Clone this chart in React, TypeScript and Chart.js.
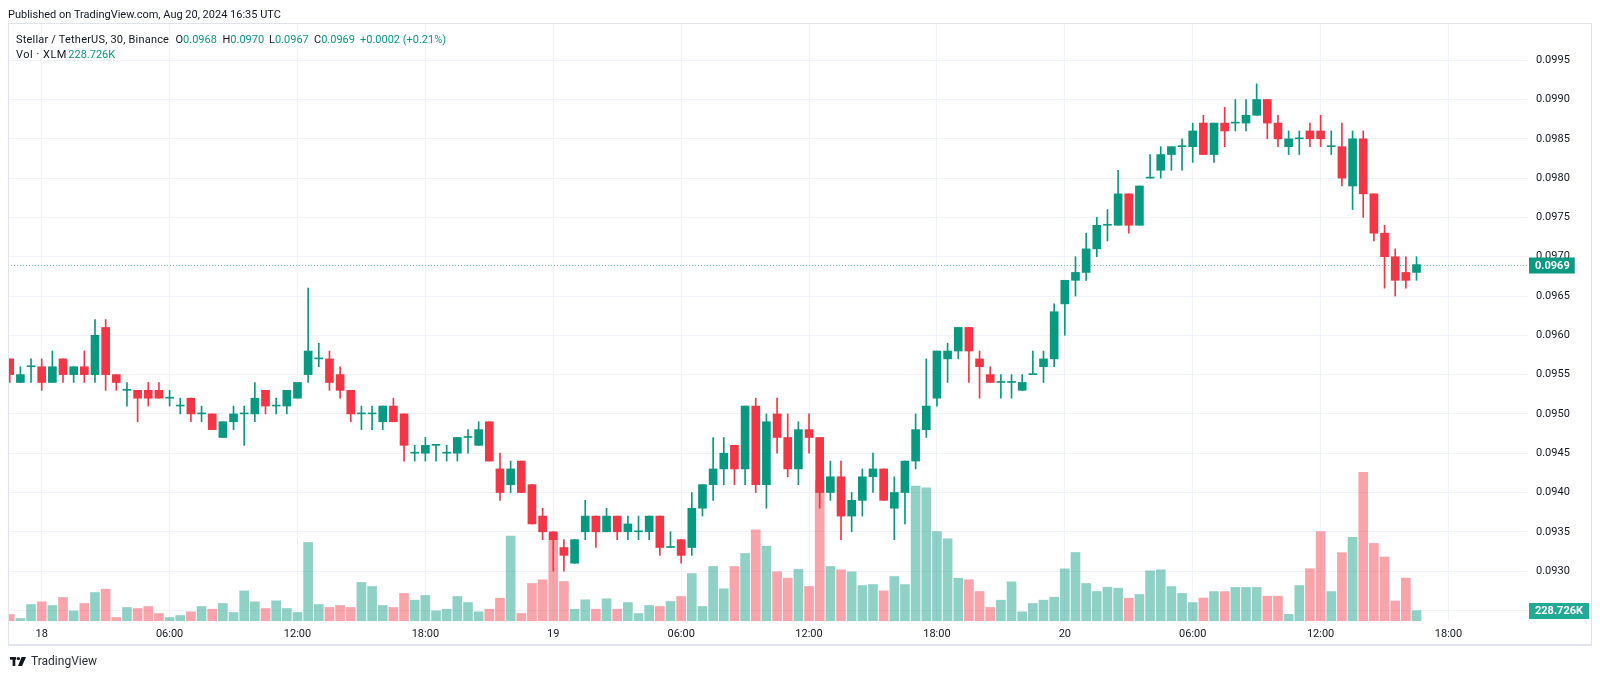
import React, { useEffect, useRef } from "react";
import { Chart, registerables } from "chart.js";

Chart.register(...registerables);

// Time: hours relative to Aug 18 00:00 UTC; first candle is Aug 17 22:30, 30-minute candles
const FIRST_CANDLE_HOURS = -1.5;
const CANDLE_HOURS = 0.5;

const OPEN = [
  0.0957, 0.0954, 0.0956, 0.0956, 0.0954, 0.0957, 0.0955, 0.0956, 0.0955, 0.0961,
  0.0955, 0.0953, 0.0953, 0.0953, 0.0953, 0.0952, 0.0951, 0.0952, 0.095, 0.095,
  0.0947, 0.0949, 0.095, 0.095, 0.0953, 0.0951, 0.0951, 0.0952, 0.0955, 0.0957,
  0.0957, 0.0955, 0.0953, 0.095, 0.095, 0.0949, 0.0951, 0.095, 0.0945, 0.0945,
  0.0946, 0.0945, 0.0945, 0.0947, 0.0946, 0.0949, 0.0943, 0.0941, 0.0944, 0.0941,
  0.0937, 0.0935, 0.0933, 0.0931, 0.0935, 0.0937, 0.0935, 0.0937, 0.0935, 0.0935,
  0.0935, 0.0937, 0.0933, 0.0934, 0.0933, 0.0938, 0.0941, 0.0943, 0.0946, 0.0943,
  0.0951, 0.0941, 0.095, 0.0947, 0.0943, 0.0948, 0.0947, 0.094, 0.0942, 0.0937,
  0.0939, 0.0942, 0.0943, 0.0938, 0.094, 0.0944, 0.0948, 0.0952, 0.0957, 0.0958,
  0.0961, 0.0957, 0.0955, 0.0954, 0.0954, 0.0953, 0.0955, 0.0956, 0.0957, 0.0964,
  0.0967, 0.0968, 0.0971, 0.0974, 0.0974, 0.0978, 0.0974, 0.098, 0.0981, 0.0983,
  0.0984, 0.0984, 0.0987, 0.0983, 0.0987, 0.0987, 0.0987, 0.0988, 0.099, 0.0987,
  0.0984, 0.0985, 0.0986, 0.0986, 0.0984, 0.0984, 0.0979, 0.0985, 0.0978, 0.0973,
  0.097, 0.0968, 0.0968,
];
const HIGH = [
  0.0957, 0.0956, 0.0957, 0.0957, 0.0958, 0.0957, 0.0956, 0.0958, 0.0962, 0.0962,
  0.0955, 0.0954, 0.0953, 0.0954, 0.0954, 0.0953, 0.0952, 0.0952, 0.0951, 0.095,
  0.0949, 0.0951, 0.0951, 0.0954, 0.0953, 0.0952, 0.0953, 0.0954, 0.0966, 0.0959,
  0.0958, 0.0956, 0.0953, 0.0951, 0.0951, 0.0951, 0.0952, 0.095, 0.0946, 0.0947,
  0.0946, 0.0946, 0.0947, 0.0948, 0.0949, 0.0949, 0.0945, 0.0944, 0.0944, 0.0941,
  0.0938, 0.0935, 0.0934, 0.0934, 0.0939, 0.0937, 0.0938, 0.0937, 0.0937, 0.0937,
  0.0937, 0.0937, 0.0935, 0.0934, 0.094, 0.0941, 0.0947, 0.0947, 0.0946, 0.0951,
  0.0952, 0.095, 0.0952, 0.095, 0.0949, 0.095, 0.0947, 0.0944, 0.0944, 0.094,
  0.0943, 0.0945, 0.0943, 0.0942, 0.0944, 0.095, 0.0957, 0.0958, 0.0959, 0.0961,
  0.0961, 0.0958, 0.0956, 0.0955, 0.0955, 0.0955, 0.0958, 0.0958, 0.0964, 0.0967,
  0.097, 0.0973, 0.0975, 0.0976, 0.0981, 0.0978, 0.0979, 0.0983, 0.0984, 0.0984,
  0.0985, 0.0987, 0.0988, 0.0987, 0.0989, 0.099, 0.099, 0.0992, 0.099, 0.0988,
  0.0986, 0.0986, 0.0987, 0.0988, 0.0986, 0.0987, 0.0986, 0.0986, 0.0978, 0.0974,
  0.0971, 0.097, 0.097,
];
const LOW = [
  0.0954, 0.0954, 0.0954, 0.0953, 0.0954, 0.0954, 0.0954, 0.0954, 0.0954, 0.0953,
  0.0953, 0.0951, 0.0949, 0.0951, 0.0952, 0.0951, 0.095, 0.0949, 0.0949, 0.0948,
  0.0947, 0.0948, 0.0946, 0.0949, 0.095, 0.095, 0.095, 0.0952, 0.0954, 0.0956,
  0.0953, 0.0952, 0.0949, 0.0948, 0.0948, 0.0948, 0.0949, 0.0944, 0.0944, 0.0944,
  0.0944, 0.0944, 0.0944, 0.0945, 0.0946, 0.0944, 0.0939, 0.094, 0.094, 0.0936,
  0.0934, 0.093, 0.093, 0.0931, 0.0934, 0.0933, 0.0935, 0.0934, 0.0934, 0.0934,
  0.0934, 0.0932, 0.0933, 0.0931, 0.0932, 0.0937, 0.0939, 0.0941, 0.0941, 0.0941,
  0.094, 0.0938, 0.0945, 0.0942, 0.0941, 0.0945, 0.0938, 0.0939, 0.0934, 0.0935,
  0.0937, 0.094, 0.0939, 0.0934, 0.0936, 0.0943, 0.0947, 0.0951, 0.0954, 0.0957,
  0.0954, 0.0952, 0.0954, 0.0952, 0.0952, 0.0953, 0.0955, 0.0954, 0.0956, 0.096,
  0.0965, 0.0967, 0.097, 0.0972, 0.0974, 0.0973, 0.0974, 0.098, 0.098, 0.0981,
  0.0981, 0.0982, 0.0983, 0.0982, 0.0984, 0.0986, 0.0986, 0.0988, 0.0985, 0.0984,
  0.0983, 0.0983, 0.0984, 0.0984, 0.0983, 0.0979, 0.0976, 0.0975, 0.0972, 0.0966,
  0.0965, 0.0966, 0.0967,
];
const CLOSE = [
  0.0955, 0.0955, 0.0956, 0.0954, 0.0956, 0.0955, 0.0956, 0.0955, 0.096, 0.0955,
  0.0954, 0.0953, 0.0952, 0.0952, 0.0952, 0.0952, 0.0951, 0.095, 0.095, 0.0948,
  0.0949, 0.095, 0.095, 0.0952, 0.0951, 0.0951, 0.0953, 0.0954, 0.0958, 0.0957,
  0.0954, 0.0953, 0.095, 0.095, 0.095, 0.0951, 0.0949, 0.0946, 0.0945, 0.0946,
  0.0946, 0.0945, 0.0947, 0.0947, 0.0948, 0.0944, 0.094, 0.0943, 0.094, 0.0936,
  0.0935, 0.0934, 0.0932, 0.0934, 0.0937, 0.0935, 0.0937, 0.0935, 0.0936, 0.0935,
  0.0937, 0.0933, 0.0933, 0.0932, 0.0938, 0.0941, 0.0943, 0.0945, 0.0943, 0.0951,
  0.0941, 0.0949, 0.0947, 0.0943, 0.0948, 0.0947, 0.094, 0.0942, 0.0937, 0.0939,
  0.0942, 0.0943, 0.0939, 0.094, 0.0944, 0.0948, 0.0951, 0.0958, 0.0958, 0.0961,
  0.0958, 0.0956, 0.0954, 0.0954, 0.0954, 0.0954, 0.0955, 0.0957, 0.0963, 0.0967,
  0.0968, 0.0971, 0.0974, 0.0974, 0.0978, 0.0974, 0.0979, 0.098, 0.0983, 0.0984,
  0.0984, 0.0986, 0.0983, 0.0987, 0.0986, 0.0987, 0.0988, 0.099, 0.0987, 0.0985,
  0.0985, 0.0985, 0.0985, 0.0985, 0.0984, 0.098, 0.0985, 0.0978, 0.0973, 0.097,
  0.0967, 0.0967, 0.0969,
];
// Volume in thousands of XLM
const VOLUME_K = [
  144, 56, 366, 426, 344, 522, 222, 389, 633, 706,
  78, 300, 278, 322, 167, 78, 122, 204, 322, 262,
  389, 189, 670, 426, 278, 448, 278, 189, 1743, 366,
  300, 344, 300, 855, 766, 344, 300, 611, 462, 566,
  226, 262, 544, 411, 204, 262, 506, 1883, 167, 833,
  915, 1943, 877, 262, 471, 262, 493, 262, 411, 167,
  344, 322, 433, 544, 1055, 322, 1210, 715, 1210, 1499,
  2025, 1661, 1092, 950, 1150, 766, 3119, 1210, 1137, 1092,
  788, 810, 670, 988, 810, 2993, 2957, 1987, 1825, 950,
  915, 655, 300, 462, 870, 204, 389, 462, 528, 1159,
  1521, 833, 655, 750, 728, 506, 588, 1114, 1137, 764,
  613, 408, 511, 653, 653, 746, 746, 746, 551, 551,
  147, 788, 1161, 1985, 653, 1518, 1858, 3301, 1723, 1421,
  444, 952, 228.726,
];

const TIME_TICK_HOURS = [0, 6, 12, 18, 24, 30, 36, 42, 48, 54, 60, 66];
const TIME_TICK_LABELS = ["18", "06:00", "12:00", "18:00", "19", "06:00", "12:00", "18:00", "20", "06:00", "12:00", "18:00"];
const PRICE_TICKS = [0.0925, 0.093, 0.0935, 0.094, 0.0945, 0.095, 0.0955, 0.096, 0.0965, 0.097, 0.0975, 0.098, 0.0985, 0.099, 0.0995];
const LAST_PRICE = 0.0969;
const LAST_VOLUME_LABEL = "228.726K";

const UP = "#089981";
const DOWN = "#F23645";
const UP_VOL = "rgba(8,153,129,0.45)";
const DOWN_VOL = "rgba(242,54,69,0.45)";
const TEXT = "#131722";
const GRID = "#f0f3fa";
const FONT = "Roboto, 'Liberation Sans', sans-serif";

const overlayPlugin = {
  id: "tvOverlay",
  beforeDraw(chart: any) {
    const { ctx, width, height } = chart;
    ctx.save();
    ctx.fillStyle = "#ffffff";
    ctx.fillRect(0, 0, width, height);
    ctx.restore();
  },
  afterDraw(chart: any) {
    const { ctx, chartArea } = chart;
    const y = chart.scales.y;
    const vol = chart.scales.vol;
    ctx.save();
    // dotted last price line
    const py = Math.round(y.getPixelForValue(LAST_PRICE)) + 0.5;
    ctx.strokeStyle = "rgba(8,153,129,0.6)";
    ctx.lineWidth = 1;
    ctx.setLineDash([1, 2]);
    ctx.beginPath();
    ctx.moveTo(chartArea.left, py);
    ctx.lineTo(chartArea.right, py);
    ctx.stroke();
    ctx.setLineDash([]);

    ctx.font = `bold 11px ${FONT}`;
    ctx.textBaseline = "middle";
    ctx.textAlign = "left";
    // price badge
    const pLabel = LAST_PRICE.toFixed(4);
    const pw = ctx.measureText(pLabel).width;
    ctx.fillStyle = UP;
    ctx.fillRect(chartArea.right + 1, py - 8, pw + 11, 16);
    ctx.fillStyle = "#ffffff";
    ctx.fillText(pLabel, chartArea.right + 7, py + 0.5);
    // volume badge
    const lastVol = VOLUME_K[VOLUME_K.length - 1];
    const vy = Math.round(vol.getPixelForValue(lastVol));
    const vw = ctx.measureText(LAST_VOLUME_LABEL).width;
    ctx.fillStyle = "#22ab94";
    ctx.fillRect(chartArea.right + 1, vy - 8, vw + 12, 16);
    ctx.fillStyle = "#ffffff";
    ctx.fillText(LAST_VOLUME_LABEL, chartArea.right + 7, vy + 0.5);

    // outer frame
    ctx.strokeStyle = "#e0e3eb";
    ctx.lineWidth = 1;
    ctx.strokeRect(8.5, 23.5, 1583, 621);
    ctx.fillStyle = "#e0e3eb";
    ctx.fillRect(8, 644, 1584, 2);
    ctx.restore();
  },
};

export default function App() {
  const ref = useRef<HTMLCanvasElement>(null);

  useEffect(() => {
    const canvas = ref.current;
    if (!canvas) return;
    const xs = OPEN.map((_, i) => FIRST_CANDLE_HOURS + i * CANDLE_HOURS);
    const isUp = OPEN.map((o, i) => CLOSE[i] >= o);

    const chart = new Chart(canvas, {
      type: "bar",
      data: {
        datasets: [
          {
            label: "Bodies",
            data: xs.map((x, i) => ({ x, y: [Math.min(OPEN[i], CLOSE[i]), Math.max(OPEN[i], CLOSE[i])] })) as any,
            backgroundColor: isUp.map((u) => (u ? UP : DOWN)),
            borderWidth: 0,
            barThickness: 8,
            minBarLength: 1,
            grouped: false,
            yAxisID: "y",
            order: 1,
          },
          {
            label: "Wicks",
            data: xs.map((x, i) => ({ x, y: [LOW[i], HIGH[i]] })) as any,
            backgroundColor: isUp.map((u) => (u ? UP : DOWN)),
            borderWidth: 0,
            barThickness: 1,
            minBarLength: 1,
            grouped: false,
            yAxisID: "y",
            order: 2,
          },
          {
            label: "Volume",
            data: xs.map((x, i) => ({ x, y: VOLUME_K[i] })) as any,
            backgroundColor: isUp.map((u) => (u ? UP_VOL : DOWN_VOL)),
            borderWidth: 0,
            barThickness: 9,
            grouped: false,
            yAxisID: "vol",
            order: 3,
          },
        ],
      },
      options: {
        responsive: false,
        animation: false,
        devicePixelRatio: 1,
        events: [],
        layout: { padding: { left: 8, top: 24, right: 0, bottom: 0 } },
        plugins: { legend: { display: false }, tooltip: { enabled: false } },
        scales: {
          x: {
            type: "linear",
            position: "bottom",
            min: -1.581,
            max: 69.73,
            offset: false,
            grid: { color: GRID, drawTicks: false, offset: false },
            border: { display: false },
            afterFit: (s: any) => {
              s.height = 57;
            },
            afterBuildTicks: (s: any) => {
              s.ticks = TIME_TICK_HOURS.map((v) => ({ value: v }));
            },
            ticks: {
              autoSkip: false,
              maxRotation: 0,
              padding: 7,
              color: TEXT,
              font: { family: FONT, size: 11 },
              callback: (v: any) => {
                const idx = TIME_TICK_HOURS.indexOf(Number(v));
                return idx >= 0 ? TIME_TICK_LABELS[idx] : "";
              },
            },
          },
          y: {
            type: "linear",
            position: "right",
            min: 0.092365,
            max: 0.099961,
            grid: { color: GRID, drawTicks: false },
            border: { display: false },
            afterFit: (s: any) => {
              s.width = 72;
            },
            afterBuildTicks: (s: any) => {
              s.ticks = PRICE_TICKS.map((v) => ({ value: v }));
            },
            ticks: {
              padding: 8,
              color: TEXT,
              font: { family: FONT, size: 11 },
              callback: (v: any) => (Number(v) < 0.0928 ? "" : Number(v).toFixed(4)),
            },
          },
          vol: {
            type: "linear",
            display: false,
            min: 0,
            max: 13253,
          },
        },
      },
      plugins: [overlayPlugin],
    });
    return () => chart.destroy();
  }, []);

  const legendTop = 32.5;
  const legendTop2 = 47.5;
  const seg = (left: number, top: number, children: React.ReactNode, extra: React.CSSProperties = {}) => (
    <div style={{ position: "absolute", left, top, fontSize: 11, lineHeight: "13px", whiteSpace: "nowrap", color: TEXT, ...extra }}>
      {children}
    </div>
  );

  return (
    <div
      style={{
        position: "fixed",
        left: 0,
        top: 0,
        width: 1600,
        height: 678,
        background: "#ffffff",
        overflow: "hidden",
        fontFamily: FONT,
      }}
    >
      <canvas ref={ref} width={1600} height={678} style={{ position: "absolute", left: 0, top: 0, width: 1600, height: 678 }} />
      {seg(8, 7.5, "Published on TradingView.com, Aug 20, 2024 16:35 UTC")}
      {seg(16, legendTop, "Stellar / TetherUS, 30, Binance", { letterSpacing: "0.2px" })}
      {seg(175.5, legendTop, <>O<span style={{ color: UP }}>0.0968</span></>)}
      {seg(222.5, legendTop, <>H<span style={{ color: UP }}>0.0970</span></>)}
      {seg(269, legendTop, <>L<span style={{ color: UP }}>0.0967</span></>)}
      {seg(314, legendTop, <>C<span style={{ color: UP }}>0.0969</span></>)}
      {seg(360, legendTop, <span style={{ color: UP }}>+0.0002 (+0.21%)</span>)}
      {seg(16, legendTop2, "Vol · XLM", { letterSpacing: "0.5px" })}
      {seg(68.3, legendTop2, <span style={{ color: UP }}>228.726K</span>)}
      <div style={{ position: "absolute", left: 9, top: 654, display: "flex", alignItems: "center", gap: 4 }}>
        <svg width="18" height="9" viewBox="0 0 18 10">
          <rect x="0" y="0" width="7" height="3" fill={TEXT} />
          <rect x="3" y="0" width="3" height="10" fill={TEXT} />
          <circle cx="9.5" cy="1.8" r="1.8" fill={TEXT} />
          <polygon points="13,0 18,0 13.5,10 9,10" fill={TEXT} />
        </svg>
        <span style={{ fontSize: 12, color: "#2a2e39", lineHeight: "14px" }}>TradingView</span>
      </div>
    </div>
  );
}
